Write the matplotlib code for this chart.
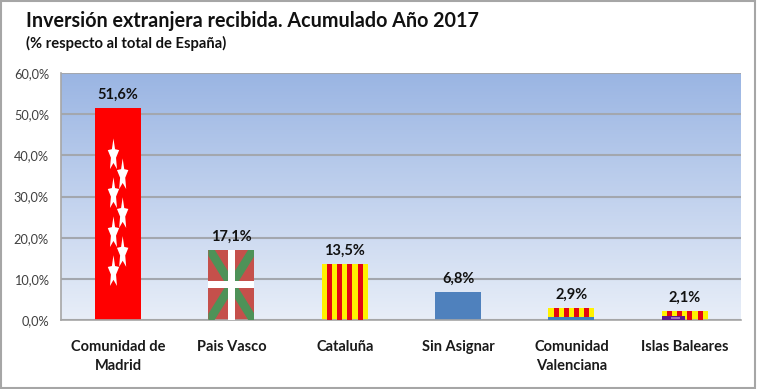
import numpy as np
import matplotlib
matplotlib.use("Agg")
import matplotlib.pyplot as plt
from matplotlib.patches import Rectangle, Polygon
from matplotlib.colors import LinearSegmentedColormap

plt.rcParams['font.family'] = ['Lato', 'DejaVu Sans']

regions = ["Comunidad de\nMadrid", "Pais Vasco", "Cataluña", "Sin Asignar",
           "Comunidad\nValenciana", "Islas Baleares"]
values = [51.6, 17.1, 13.5, 6.8, 2.9, 2.1]
value_labels = ["51,6%", "17,1%", "13,5%", "6,8%", "2,9%", "2,1%"]
base_colors = ["#FF0000", "#C5504B", "#FFF200", "#4F81BD", "#FFF200", "#FFF200"]
yticks = [0, 10, 20, 30, 40, 50, 60]
ytick_labels = ["0,0%", "10,0%", "20,0%", "30,0%", "40,0%", "50,0%", "60,0%"]

W, H = 757, 389
fig = plt.figure(figsize=(W / 100, H / 100), dpi=100, facecolor="white")
# outer frame of the pasted chart
fig.add_artist(Rectangle((1 / W, 1 / H), 754 / W, 387 / H, transform=fig.transFigure,
                         fill=False, ec="#A6A6A6", lw=1.5))

ax = fig.add_axes([61.4 / W, 1 - 320 / H, 680 / W, 247 / H])
xpos = np.arange(len(regions))

# background gradient
cmap = LinearSegmentedColormap.from_list("bg", ["#E8EEF8", "#9AB5E3"])
ax.imshow(np.linspace(0, 1, 256).reshape(-1, 1), extent=[-0.5, 5.5, 0, 60], origin="lower",
          aspect="auto", cmap=cmap, zorder=0)
ax.set_xlim(-0.5, len(regions) - 0.5)
ax.set_ylim(0, 60)

ax.set_yticks(yticks)
ax.set_yticklabels(ytick_labels, fontsize=9.2, color="#404040")
ax.set_xticks(xpos)
ax.set_xticklabels(regions, fontsize=10.5, fontweight="bold", color="#1A1A1A", linespacing=1.45)
ax.tick_params(axis="both", length=0)
ax.tick_params(axis="y", pad=9)
ax.tick_params(axis="x", pad=14.5)
ax.grid(axis="y", color="#A3A7AE", lw=1.5, zorder=1)
ax.set_axisbelow(True)
for name, sp in ax.spines.items():
    sp.set_visible(name in ("left", "bottom"))
    sp.set_color("#A6A6A6")
    sp.set_linewidth(1.2)

bar_width = 46 / (680 / 6)
bars = ax.bar(xpos, values, width=bar_width, color=base_colors, zorder=2, linewidth=0)

for x, v, lab in zip(xpos, values, value_labels):
    ax.annotate(lab, (x, v), xytext=(0, 4.5), textcoords="offset points", ha="center", va="bottom",
                fontsize=10.5, fontweight="bold", color="#111111", zorder=5)


def rel_rect(bar, x0, y0, x1, y1, color):
    # rectangle given as fractions of the bar
    bx, bw, bh = bar.get_x(), bar.get_width(), bar.get_height()
    r = Rectangle((bx + x0 * bw, y0 * bh), (x1 - x0) * bw, (y1 - y0) * bh, fc=color, ec="none", zorder=3)
    ax.add_patch(r)
    r.set_clip_path(bar)
    return r


def rel_poly(bar, pts, color):
    bx, bw, bh = bar.get_x(), bar.get_width(), bar.get_height()
    xy = [(bx + px * bw, py * bh) for px, py in pts]
    p = Polygon(xy, closed=True, fc=color, ec="none", zorder=3)
    ax.add_patch(p)
    p.set_clip_path(bar)
    return p


def star(bar, cx, cy, rx, ry):
    ang = np.pi / 2 + np.arange(10) * np.pi / 5
    rad = np.where(np.arange(10) % 2 == 0, 1.0, 0.45)
    pts = list(zip(cx + rx * rad * np.cos(ang), cy + ry * rad * np.sin(ang)))
    rel_poly(bar, pts, "white")


def stripes(bar, n_red, y0=0, y1=1, red="#E30613"):
    # n_red red stripes between n_red + 1 yellow ones
    step = 1 / (2 * n_red + 1)
    for i in range(n_red):
        rel_rect(bar, step * (2 * i + 1), y0, step * (2 * i + 2), y1, red)


# Madrid
star_x = [0.40, 0.60, 0.40, 0.60, 0.40, 0.60, 0.40]
star_y = [0.775, 0.681, 0.592, 0.498, 0.408, 0.315, 0.225]
for sx, sy in zip(star_x, star_y):
    star(bars[0], sx, sy, 0.13, 0.08)

# Pais Vasco
g = "#4E9258"
d = 0.09
rel_poly(bars[1], [(0, 1), (d * 1.5, 1), (1, d), (1, 0), (1 - d * 1.5, 0), (0, 1 - d)], g)
rel_poly(bars[1], [(1, 1), (1 - d * 1.5, 1), (0, d), (0, 0), (d * 1.5, 0), (1, 1 - d)], g)
rel_rect(bars[1], 0.42, 0, 0.58, 1, "white")
rel_rect(bars[1], 0, 0.45, 1, 0.55, "white")

# Cataluna
stripes(bars[2], 4)

# Comunidad Valenciana
stripes(bars[4], 4, y0=0.2)
rel_rect(bars[4], 0, 0, 1, 0.22, "#3F7FBF")

# Baleares
stripes(bars[5], 4)
rel_rect(bars[5], 0, 0, 0.5, 0.42, "#5B1A8B")
rel_rect(bars[5], 0.2, 0.1, 0.4, 0.32, "#A070C0")

fig.text(26 / W, 1 - 21 / H, "Inversión extranjera recibida. Acumulado Año 2017", fontsize=14.2,
         fontweight="bold", color="#111111", va="center", ha="left")
fig.text(26 / W, 1 - 43 / H, "(% respecto al total de España)", fontsize=10.6,
         fontweight="bold", color="#111111", va="center", ha="left")

fig.savefig("out.png", dpi=100)
